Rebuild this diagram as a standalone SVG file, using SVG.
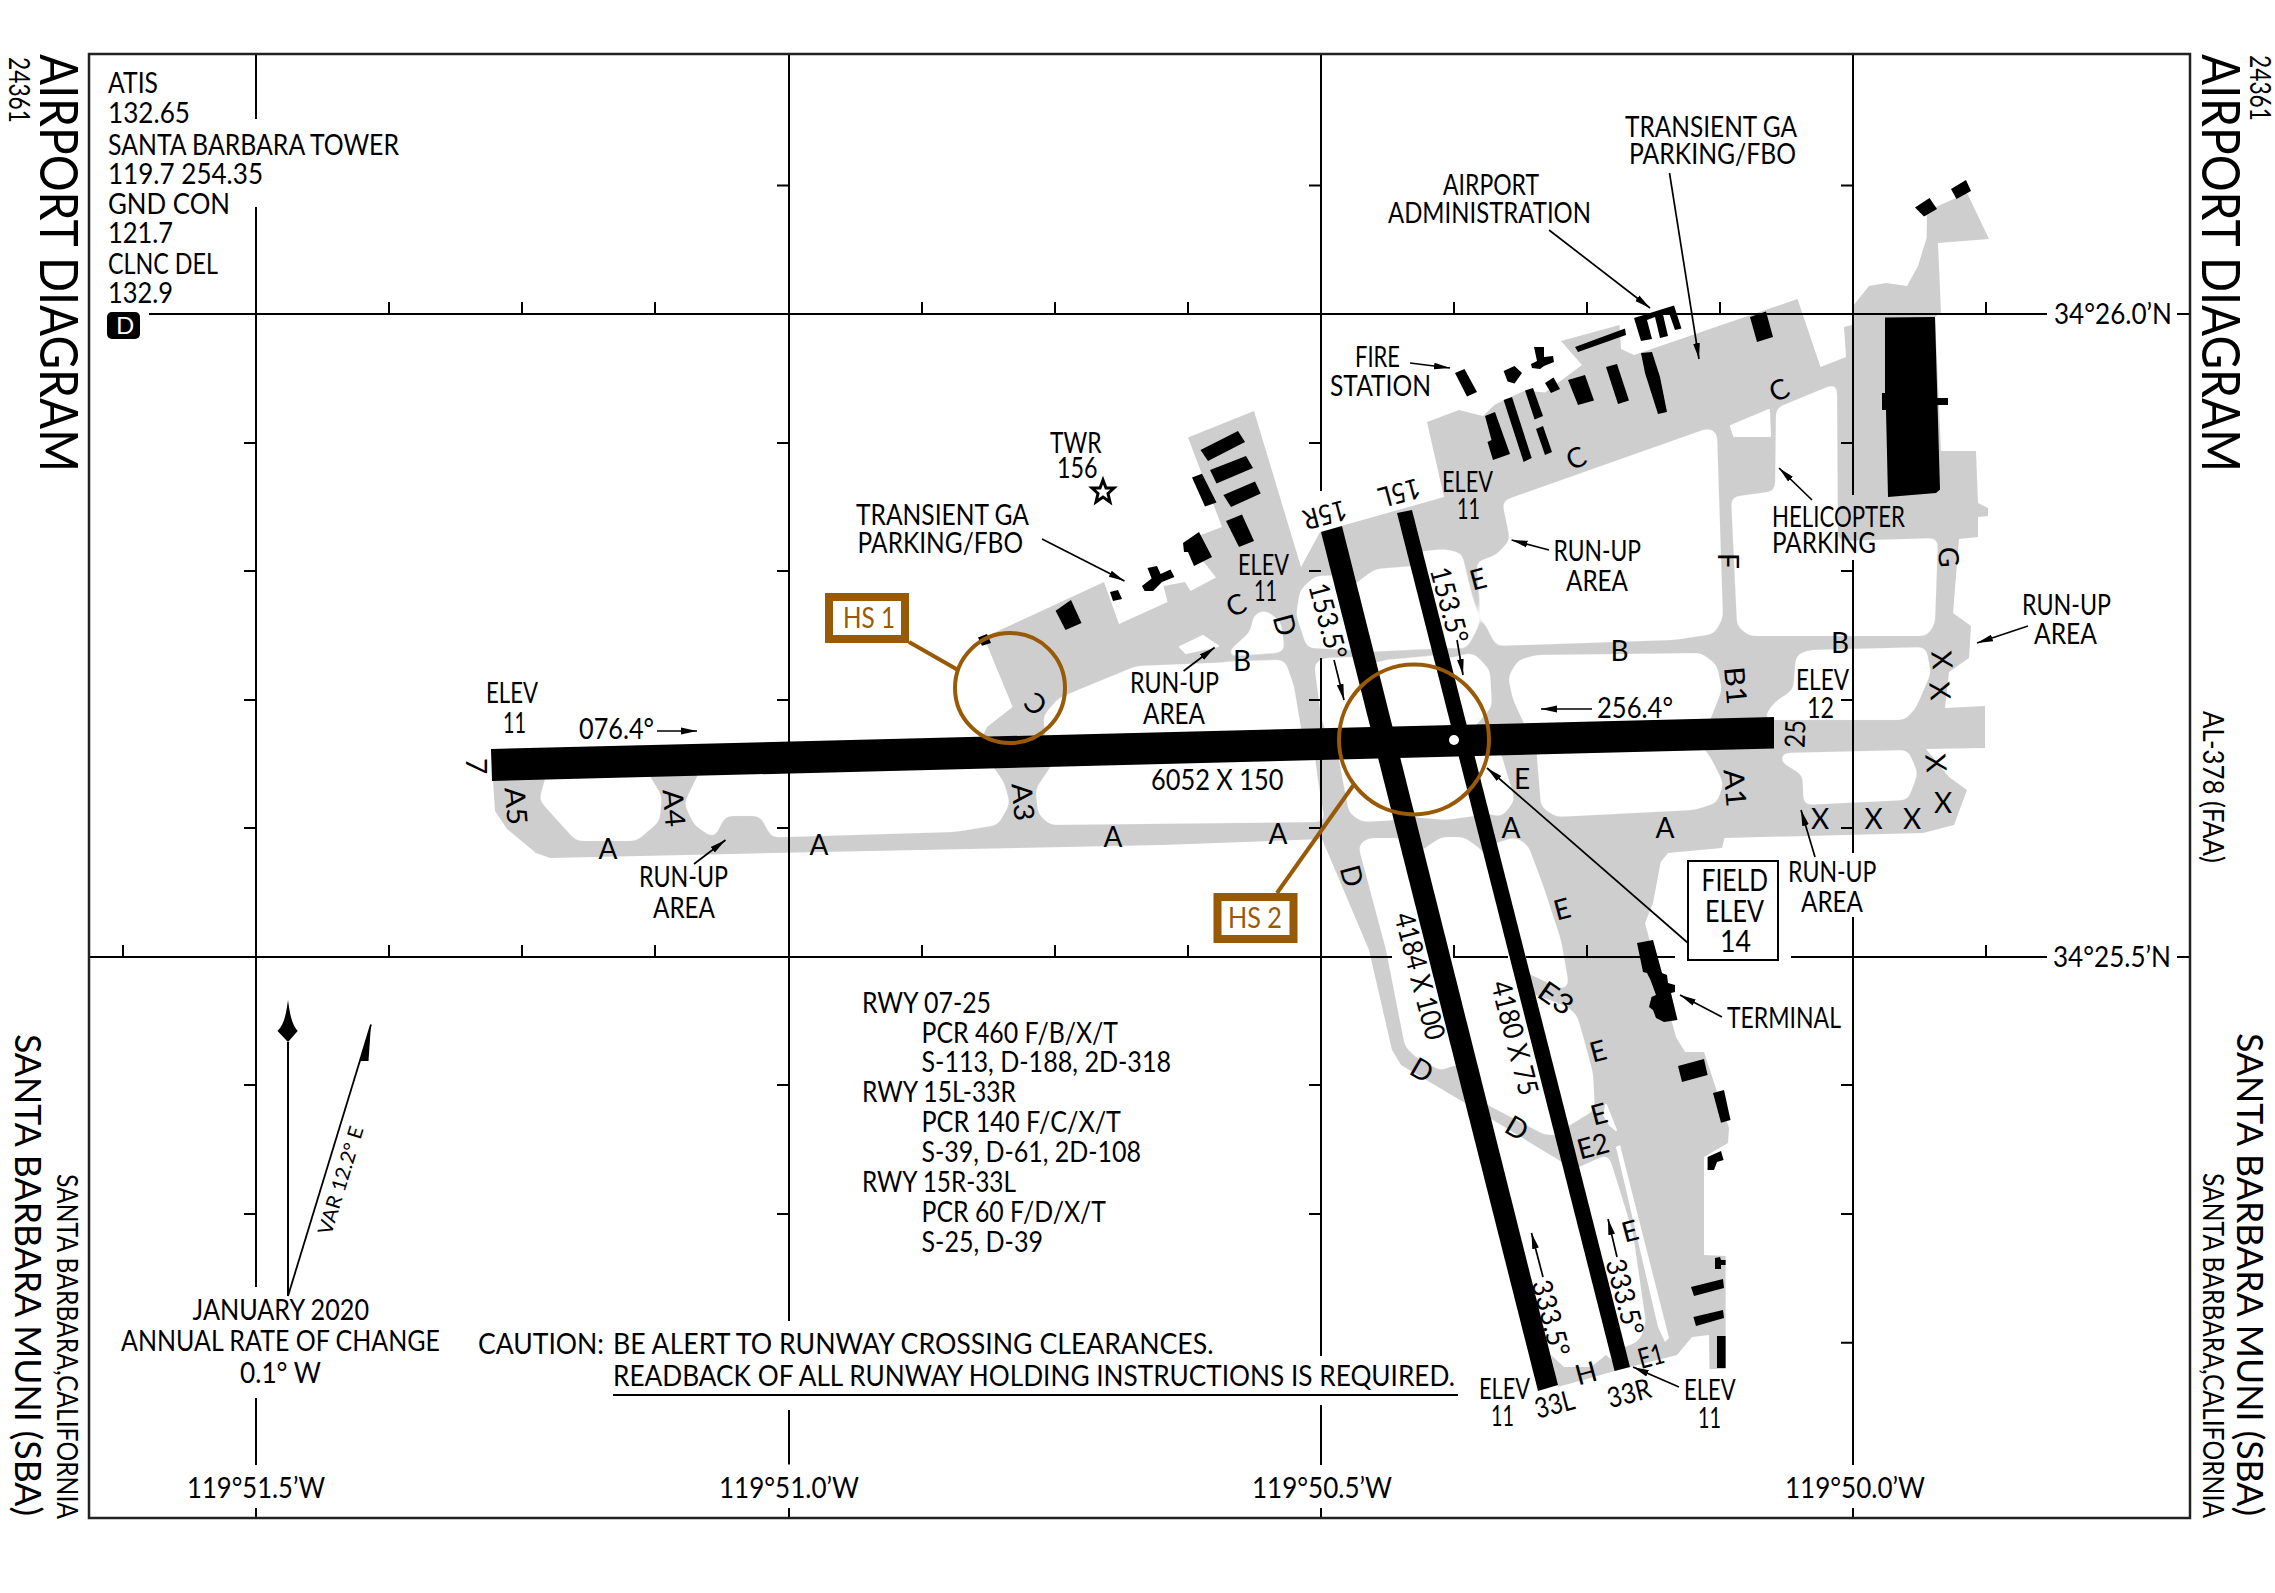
<svg xmlns="http://www.w3.org/2000/svg" width="2275" height="1593" viewBox="0 0 2275 1593">
<style>
text{font-family:Lato,"Liberation Sans",sans-serif;font-size:28px;fill:#000}
.m{text-anchor:middle}
.g{fill:#cecece}
.h{fill:#fff}
.hx{fill:#fff;stroke:#fff;stroke-width:2;stroke-linejoin:round}
.k{fill:#000}
.grid{fill:none;stroke:#000;stroke-width:2}
.lead{fill:none;stroke:#000;stroke-width:1.7;marker-end:url(#arr)}
.hs{fill:none;stroke:#985a06;stroke-width:4}
.hsb{fill:#fff;stroke:#985a06;stroke-width:8}
.hst{fill:#985a06}
</style>
<defs>
<marker id="arr" markerUnits="userSpaceOnUse" markerWidth="18" markerHeight="8" refX="16" refY="4" orient="auto"><path d="M0 0.6L16 4L0 7.4Z" fill="#000"/></marker>
<filter id="rnd" filterUnits="userSpaceOnUse" x="0" y="0" width="2275" height="1593" color-interpolation-filters="sRGB"><feGaussianBlur stdDeviation="4"/><feComponentTransfer><feFuncA type="linear" slope="10" intercept="-4.5"/></feComponentTransfer></filter>
</defs>
<rect width="2275" height="1593" fill="#fff"/>
<g id="pavement">
<polygon class="g" points="493,770 493,780 495,811 507,829 536,853 550,858 771,853 1162,845 1322,839 1369,950 1392,1050 1401,1065 1465,1103 1562,1162 1580,1172 1622,1369 1630,1367 1677,1355 1692,1337 1709,1335 1709.5,1369 1725.6,1369 1725.6,1256 1704,1255 1704,1157 1728,1143 1729,1128 1704,1052 1685,1052 1676,1037 1645,923 1653,903 1660.7,862 1668,853 1722,848 1724.5,838 1923,833 1954,825 1967,790 1949,777 1926,749 1985,748 1985,706 1945,708 1949,672 1969,658 1971,626 1953,613 1959,539 1978,537 1978,517 1988,516 1988,508 1978,503 1976,451 1941,451 1935,317 1941,313 1938,243 1989,239 1967,193 1927,211 1926.6,238 1918,266 1907,286 1886,283 1869,286 1853,306 1852,325 1844,327 1846,357 1820.5,367 1797.5,299 1634,355 1621,349 1619.5,325 1561,341 1582,365 1545,392.6 1525,390.6 1495,404.5 1483,416 1459,410 1427,422 1444,497 1320,532 1301,567 1254,411 1188,437.5 1222,527 1185,541 1207,566 1216,577.5 1190.5,591 1185,582 1163.5,586 1167.6,602 1119,624 1104,582 984,637.5 1012.6,707 987,727 981,740"/>
<polygon class="g" points="1551,1355 1564,1367 1591,1367 1606,1355 1622,1369 1558,1387"/>
<g filter="url(#rnd)">
<polygon class="h" points="547.6,770 645,768 662,796 659.5,821.5 636.6,841 576,841 539,800"/>
<polygon class="h" points="702.6,765 987,758 1004,782 1010,803.6 998,825 955,832 771.5,837.5 760,816 725.5,816 714,838.6 694,825 684,803.6"/>
<polygon class="h" points="1058.5,755 1035.5,789 1038,814 1050,825 1325,822 1318,780 1314,750"/>
<polygon class="h" points="1043,716 1058.5,698 1136,666 1285,660 1294,686 1303,740 1047,750"/>
<polygon class="h" points="1250,632 1254,614 1266,610 1281,622 1285,652 1223,656"/>
<polygon class="h" points="1315,576 1345,575 1360,650 1307,648 1296,615 1300,590"/>
<polygon class="h" points="1340,595 1375,569 1425,565 1440,648 1366,652"/>
<polygon class="h" points="1415,552 1444,549 1462,553 1479,626 1467,648 1435,648"/>
<polygon class="h" points="1314,663 1324,658 1370,657 1382,745 1330,745 1321,717"/>
<polygon class="h" points="1360,668 1385,660 1445,655 1460,740 1380,740"/>
<polygon class="h" points="1440,660 1474,653 1490,670 1492,707 1470,732 1450,732"/>
<polygon class="h" points="1337,750 1388,750 1400,820 1362,822 1349,813"/>
<polygon class="h" points="1389,750 1467,750 1482,815 1446,820 1410,817"/>
<polygon class="h" points="1465,750 1500,750 1515,800 1502,817 1480,812"/>
<polygon class="h" points="1502,501 1708.5,428 1717,432 1723,618 1714,634 1674,640 1496,646 1482,618 1476,562 1496,555 1510,540"/>
<polygon class="h" points="1776,408 1837,383 1838,541 1938,538 1935,624 1927,636 1749,636 1737,626 1731,497 1775,491"/>
<polygon class="h" points="1508,677 1518,660 1536,655 1701.5,653 1717,665 1722,690 1707,728 1528,732 1513,700"/>
<polygon class="h" points="1774.5,702 1793,690 1796,655 1809,650 1926,647 1931,673 1916,708 1905,720 1762,720"/>
<polygon class="h" points="1781,753 1908,750 1918,773 1908,800 1803.5,805 1802.5,775 1781,762"/>
<polygon class="h" points="1536,745 1700,742 1712,760 1723.5,783 1717,803 1694,810 1556,817 1541,807"/>
<polygon class="h" points="1358,845 1368,838 1405,838 1467,1067 1453,1065 1442,1071 1419,1060 1405,1047 1386,950"/>
<polygon class="h" points="1415,855 1441,837 1464,837 1482,850 1565,1135 1545,1135 1478,1100"/>
<polygon class="h" points="1487,846 1515,837 1528,845 1543,885 1561,940 1569,985 1563,990 1525,972"/>
<polygon class="h" points="1523,990 1568,1007 1577,1015 1585,1043 1593,1073 1595,1110 1562,1130"/>
<polygon class="h" points="1568,1172 1608,1154 1612,1165 1633,1233 1646,1323 1640,1340 1627,1347 1612,1347"/>
</g>
<polygon class="hx" points="1180,647 1203,636 1218,646 1186,653"/>
<polygon class="hx" points="1731,426 1769,410 1770,436 1734,436"/>
<polygon class="hx" points="1606,1105 1616,1130 1610,1125 1604,1115"/>
<polygon fill="#fff" points="1616,1147 1620,1145 1669,1338 1665,1342 1658,1327"/>
</g>
<g id="grid">
<path class="grid" d="M256 54V119M256 207V1287M256 1398V1465M256 1508V1518M789 54V1321M789 1410V1464.5M789 1508V1518M1321 54V491M1321 658V1356M1321 1405V1465M1321 1508V1518M1853 54V495M1853 560V853M1853 917V1465M1853 1508V1518"/>
<path class="grid" d="M149 314H2047M2177 314H2190M89 957H1392M1453 957H1508M1526 957H1675M1791 957H2047M2177 957H2190"/>
<path class="grid" d="M244 443H256M244 571H256M244 700H256M244 828H256M244 1085H256M244 1214H256M777 185.500H789M777 443H789M777 571H789M777 700H789M777 828H789M777 1085H789M777 1214H789M1309 185.500H1321M1309 443H1321M1309 571H1321M1309 700H1321M1309 828H1321M1309 1085H1321M1309 1214H1321M1841 185.500H1853M1841 443H1853M1841 571H1853M1841 700H1853M1841 828H1853M1841 1085H1853M1841 1214H1853M1841 1342.700H1853"/>
<path class="grid" d="M389 314V302M522 314V302M655 314V302M922 314V302M1055 314V302M1188 314V302M1454 314V302M1587 314V302M1720 314V302M1986 314V302M123 957V945M389 957V945M522 957V945M655 957V945M922 957V945M1055 957V945M1188 957V945M1454 957V945M1587 957V945M1986 957V945"/>
<rect x="89" y="54" width="2101" height="1464" fill="none" stroke="#222" stroke-width="2.500"/>
</g>
<g id="runways">
<polygon class="k" points="491,749 1774,717 1774,748.500 492,781"/>
<polygon class="k" points="1321,532 1342,526 1558,1385 1538,1391"/>
<polygon class="k" points="1397,513 1412,510 1630,1367 1614.600,1371"/>
<ellipse cx="1454" cy="740" rx="5" ry="5" fill="#fff"/>
</g>
<g id="buildings" class="k">
<polygon points="1885,317.500 1935,317 1940,489.500 1936,493 1888,497 1886,410 1882,410 1882,393 1885,393"/>
<rect x="1935" y="398" width="13" height="7"/>
<polygon points="1915,207.500 1929.500,198 1937,209 1924,216.600"/>
<polygon points="1951,189 1966,180 1971,191 1956.500,199"/>
<polygon points="1750,317 1766,311.500 1773,337 1757,342"/>
<polygon points="1634,318 1674,305.600 1681.500,328.500 1675,330 1669,313 1663,314.500 1668,336 1660,338 1655,317 1647,320 1652,339 1641,341"/>
<polygon points="1575,347 1625,328.600 1626,335 1578,352"/>
<polygon points="1641,353 1652,352 1660,377 1667,412 1658,414 1645,373"/>
<polygon points="1606,367 1617,364 1629,400.500 1618,404"/>
<polygon points="1568,380 1585,375 1594,400.500 1578,405"/>
<polygon points="1545,383 1553.500,377.600 1560,389 1551,393"/>
<polygon points="1534,347 1544,347 1544,357 1553,356 1554,362 1544,366 1540,369 1532,368 1531,364 1537,361"/>
<polygon points="1503.600,371 1514.500,366 1522,373 1514.500,383.500 1507.600,381.500"/>
<polygon points="1455,373 1464.500,369 1477,392 1467,396.600"/>
<polygon points="1525,390.600 1533,388 1543,416 1534.600,419.500"/>
<polygon points="1503.600,400 1512,397 1531.700,458 1523.600,462"/>
<polygon points="1536,429 1543,426 1552,452 1545,455"/>
<polygon points="1485,416 1495,412 1510,454 1493,460 1487.500,442 1491.500,440"/>
<polygon points="1200.500,450 1238,431 1245,442 1208,461"/>
<polygon points="1210,470 1246,456 1253,468 1216.500,483.500"/>
<polygon points="1223.400,495 1255,481.600 1260.700,493.400 1231,507"/>
<polygon points="1192,477.600 1202,473.700 1216.500,502.500 1205,506.500"/>
<polygon points="1226,521 1242,514.400 1254,541 1239,547"/>
<polygon points="1183,543 1199,532 1212,557 1194,566 1188,552 1184,552"/>
<polygon points="1142,586 1151.600,578.600 1147.500,568 1157,566 1160.600,574 1170.500,569.600 1174.400,577 1162,582 1153,591 1144.600,591"/>
<polygon points="1110,592 1118,590 1122,599 1113,601"/>
<polygon points="1055.600,610.700 1071,600 1081.500,623 1065.500,630"/>
<polygon points="978,637.500 987,634 991,643 982,645.700"/>
<polygon points="1637,943 1653,940 1662,973 1667,975 1668,983 1675,985 1675,992 1671,993 1677.500,1020 1664,1022 1656,1018 1653,1010 1649,1007 1651.500,997 1656,995 1650.500,980 1647,973 1643,972"/>
<polygon points="1678,1066 1704,1059 1707.600,1075 1682,1082"/>
<polygon points="1713,1093 1724,1090 1730.500,1120 1721,1122.700"/>
<polygon points="1707.600,1157 1721,1151 1723.600,1160 1717,1162 1714,1170 1707.600,1170"/>
<polygon points="1715,1258 1720,1257 1721,1260 1725.600,1260 1725.600,1265 1721,1265 1721,1269 1715,1269"/>
<polygon points="1691,1287 1723,1279 1724,1288 1694,1296"/>
<polygon points="1693.400,1317 1723,1310 1724,1318 1696,1326"/>
<rect x="1717" y="1336" width="8.600" height="32"/>
<polygon points="1103,480 1106,488 1114,488 1108,493.500 1110,502 1103,497 1096,502 1098,493.500 1092,488 1100,488" fill="#fff" stroke="#000" stroke-width="3"/>
</g>
<g id="leaders">
<path class="lead" d="M1410 363L1450 368"/>
<path class="lead" d="M1549 230L1650 308"/>
<path class="lead" d="M1669.500 173L1699 359"/>
<path class="lead" d="M1549 550L1511.600 540"/>
<path class="lead" d="M1812 500L1779 468"/>
<path class="lead" d="M1183.600 671L1214.600 647.500"/>
<path class="lead" d="M1334 660L1344 700"/>
<path class="lead" d="M1457 640L1463 675"/>
<path class="lead" d="M1592 709H1541"/>
<path class="lead" d="M657 731H697"/>
<path class="lead" d="M694 864L725.500 840"/>
<path class="lead" d="M1042 539L1124.500 581"/>
<path class="lead" d="M1688 943L1487 768"/>
<path class="lead" d="M1815 857L1801 810"/>
<path class="lead" d="M1722 1017L1680 995"/>
<path class="lead" d="M2028 626L1977 643"/>
<path class="lead" d="M1679 1387L1633 1367"/>
<path class="lead" d="M1543 1277L1531.500 1233"/>
<path class="lead" d="M1617 1257L1608 1219"/>
<path fill="none" stroke="#000" stroke-width="2" d="M288 1296V1042"/>
<path class="k" d="M288 1000C290 1015 292 1025 297.700 1031L288 1042L277.500 1031C284 1025 286 1015 288 1000Z"/>
<path fill="none" stroke="#000" stroke-width="1.800" d="M288 1296L371 1024.600"/>
<polygon class="k" points="371,1024.600 368.500,1061 360,1061"/>
<path fill="none" stroke="#000" stroke-width="2" d="M613 1395H1458"/>
</g>
<g id="hot-spots">
<circle class="hs" cx="1010" cy="688" r="55"/>
<path class="hs" d="M909 642L958 670"/>
<rect class="hsb" x="829" y="597" width="76" height="42"/>
<text class="hst" x="843" y="627.500" textLength="52" lengthAdjust="spacingAndGlyphs">HS 1</text>
<circle class="hs" cx="1414" cy="739.500" r="75"/>
<path class="hs" d="M1277 893L1355 783"/>
<rect class="hsb" x="1217.500" y="897" width="76" height="42"/>
<text class="hst" x="1228" y="928" textLength="54" lengthAdjust="spacingAndGlyphs">HS 2</text>
</g>
<g id="field-elev">
<rect x="1688" y="861" width="90" height="99" fill="#fff" stroke="#000" stroke-width="2"/>
<text x="1701.500" y="890.700" textLength="66.500" lengthAdjust="spacingAndGlyphs" style="font-size:31px">FIELD</text>
<text x="1705" y="921.700" textLength="59" lengthAdjust="spacingAndGlyphs" style="font-size:31px">ELEV</text>
<text x="1720" y="951.700" textLength="31" lengthAdjust="spacingAndGlyphs" style="font-size:31px">14</text>
</g>
<g id="margin">
<text transform="translate(40,54) rotate(90)" textLength="418" lengthAdjust="spacingAndGlyphs" style="font-size:53px">AIRPORT DIAGRAM</text>
<text transform="translate(2202,54) rotate(90)" textLength="418" lengthAdjust="spacingAndGlyphs" style="font-size:53px">AIRPORT DIAGRAM</text>
<text transform="translate(9,57) rotate(90)" textLength="66" lengthAdjust="spacingAndGlyphs">24361</text>
<text transform="translate(2250,55) rotate(90)" textLength="66" lengthAdjust="spacingAndGlyphs">24361</text>
<text transform="translate(15,1034) rotate(90)" textLength="482" lengthAdjust="spacingAndGlyphs" style="font-size:37px">SANTA BARBARA MUNI (SBA)</text>
<text transform="translate(2237,1033) rotate(90)" textLength="483" lengthAdjust="spacingAndGlyphs" style="font-size:37px">SANTA BARBARA MUNI (SBA)</text>
<text transform="translate(57,1174) rotate(90)" textLength="345" lengthAdjust="spacingAndGlyphs">SANTA BARBARA,CALIFORNIA</text>
<text transform="translate(2203,1173) rotate(90)" textLength="345" lengthAdjust="spacingAndGlyphs">SANTA BARBARA,CALIFORNIA</text>
<text transform="translate(2203,711) rotate(90)" textLength="152" lengthAdjust="spacingAndGlyphs">AL-378 (FAA)</text>
<text x="2054" y="324" textLength="118" lengthAdjust="spacingAndGlyphs">34°26.0’N</text>
<text x="2053" y="967" textLength="118" lengthAdjust="spacingAndGlyphs">34°25.5’N</text>
<text x="187" y="1498" textLength="138" lengthAdjust="spacingAndGlyphs">119°51.5’W</text>
<text x="719" y="1498" textLength="140" lengthAdjust="spacingAndGlyphs">119°51.0’W</text>
<text x="1252" y="1498" textLength="140" lengthAdjust="spacingAndGlyphs">119°50.5’W</text>
<text x="1785" y="1498" textLength="140" lengthAdjust="spacingAndGlyphs">119°50.0’W</text>
</g>
<g id="comm" transform="translate(0,1)">
<text x="108" y="92" textLength="50" lengthAdjust="spacingAndGlyphs">ATIS</text>
<text x="108" y="122" textLength="82" lengthAdjust="spacingAndGlyphs">132.65</text>
<text x="108" y="154" textLength="291" lengthAdjust="spacingAndGlyphs">SANTA BARBARA TOWER</text>
<text x="108" y="183" textLength="155" lengthAdjust="spacingAndGlyphs">119.7 254.35</text>
<text x="108" y="213" textLength="122" lengthAdjust="spacingAndGlyphs">GND CON</text>
<text x="108" y="242" textLength="65" lengthAdjust="spacingAndGlyphs">121.7</text>
<text x="108" y="273" textLength="110" lengthAdjust="spacingAndGlyphs">CLNC DEL</text>
<text x="108" y="302" textLength="65" lengthAdjust="spacingAndGlyphs">132.9</text>
</g>
<g id="class-d">
<rect x="107" y="312" width="33" height="27" rx="5" fill="#000"/>
<text x="116" y="334" style="fill:#fff;font-size:24px">D</text>
</g>
<g id="notes">
<text x="862" y="1012.500" textLength="129" lengthAdjust="spacingAndGlyphs">RWY 07-25</text>
<text x="921.500" y="1042.700" textLength="196.500" lengthAdjust="spacingAndGlyphs">PCR 460 F/B/X/T</text>
<text x="921.500" y="1072" textLength="249.500" lengthAdjust="spacingAndGlyphs">S-113, D-188, 2D-318</text>
<text x="862" y="1102" textLength="154" lengthAdjust="spacingAndGlyphs">RWY 15L-33R</text>
<text x="921.500" y="1132" textLength="199.500" lengthAdjust="spacingAndGlyphs">PCR 140 F/C/X/T</text>
<text x="921.500" y="1162" textLength="219.500" lengthAdjust="spacingAndGlyphs">S-39, D-61, 2D-108</text>
<text x="862" y="1192" textLength="154" lengthAdjust="spacingAndGlyphs">RWY 15R-33L</text>
<text x="921.500" y="1222" textLength="184.500" lengthAdjust="spacingAndGlyphs">PCR 60 F/D/X/T</text>
<text x="921.500" y="1252" textLength="121.500" lengthAdjust="spacingAndGlyphs">S-25, D-39</text>
<text x="478" y="1354" textLength="126" lengthAdjust="spacingAndGlyphs">CAUTION:</text>
<text x="613" y="1354" textLength="600.500" lengthAdjust="spacingAndGlyphs">BE ALERT TO RUNWAY CROSSING CLEARANCES.</text>
<text x="613" y="1385.600" textLength="842" lengthAdjust="spacingAndGlyphs">READBACK OF ALL RUNWAY HOLDING INSTRUCTIONS IS REQUIRED.</text>
<text x="192.500" y="1320" textLength="176.500" lengthAdjust="spacingAndGlyphs">JANUARY 2020</text>
<text x="121" y="1351" textLength="319" lengthAdjust="spacingAndGlyphs">ANNUAL RATE OF CHANGE</text>
<text x="240" y="1382.500" textLength="81" lengthAdjust="spacingAndGlyphs">0.1° W</text>
<text transform="translate(331,1236) rotate(-73)" textLength="112" lengthAdjust="spacingAndGlyphs" style="font-size:20px">VAR 12.2° E</text>
</g>
<g id="labels" transform="translate(0,1)">
<text x="1625" y="135.600" textLength="172" lengthAdjust="spacingAndGlyphs">TRANSIENT GA</text>
<text x="1629" y="162.500" textLength="167" lengthAdjust="spacingAndGlyphs">PARKING/FBO</text>
<text x="1443" y="194" textLength="96" lengthAdjust="spacingAndGlyphs">AIRPORT</text>
<text x="1388" y="222" textLength="203" lengthAdjust="spacingAndGlyphs">ADMINISTRATION</text>
<text x="1355" y="366" textLength="45" lengthAdjust="spacingAndGlyphs">FIRE</text>
<text x="1330" y="395" textLength="101" lengthAdjust="spacingAndGlyphs">STATION</text>
<text x="1442" y="491" textLength="51" lengthAdjust="spacingAndGlyphs">ELEV</text>
<text x="1457" y="518" textLength="23" lengthAdjust="spacingAndGlyphs">11</text>
<text x="1553.500" y="560" textLength="87.500" lengthAdjust="spacingAndGlyphs">RUN-UP</text>
<text x="1566" y="590" textLength="62" lengthAdjust="spacingAndGlyphs">AREA</text>
<text x="1772" y="526" textLength="133" lengthAdjust="spacingAndGlyphs">HELICOPTER</text>
<text x="1772" y="552" textLength="104" lengthAdjust="spacingAndGlyphs">PARKING</text>
<text x="1238" y="574" textLength="51" lengthAdjust="spacingAndGlyphs">ELEV</text>
<text x="1254" y="600" textLength="23" lengthAdjust="spacingAndGlyphs">11</text>
<text x="1130" y="692" textLength="89" lengthAdjust="spacingAndGlyphs">RUN-UP</text>
<text x="1143" y="722.500" textLength="62" lengthAdjust="spacingAndGlyphs">AREA</text>
<text x="1796" y="689" textLength="53" lengthAdjust="spacingAndGlyphs">ELEV</text>
<text x="1807" y="717" textLength="27" lengthAdjust="spacingAndGlyphs">12</text>
<text x="1597" y="717" textLength="76" lengthAdjust="spacingAndGlyphs">256.4°</text>
<text x="579" y="737.500" textLength="75" lengthAdjust="spacingAndGlyphs">076.4°</text>
<text x="486" y="702" textLength="52" lengthAdjust="spacingAndGlyphs">ELEV</text>
<text x="503" y="732" textLength="23" lengthAdjust="spacingAndGlyphs">11</text>
<text x="1151" y="789" textLength="132.500" lengthAdjust="spacingAndGlyphs">6052 X 150</text>
<text x="639" y="886" textLength="89" lengthAdjust="spacingAndGlyphs">RUN-UP</text>
<text x="653" y="917" textLength="62" lengthAdjust="spacingAndGlyphs">AREA</text>
<text x="1050" y="452" textLength="51.500" lengthAdjust="spacingAndGlyphs">TWR</text>
<text x="1057" y="477" textLength="40.500" lengthAdjust="spacingAndGlyphs">156</text>
<text x="856" y="524" textLength="173" lengthAdjust="spacingAndGlyphs">TRANSIENT GA</text>
<text x="857.600" y="552" textLength="165.400" lengthAdjust="spacingAndGlyphs">PARKING/FBO</text>
<text x="1788" y="881" textLength="88.500" lengthAdjust="spacingAndGlyphs">RUN-UP</text>
<text x="1801" y="911" textLength="62" lengthAdjust="spacingAndGlyphs">AREA</text>
<text x="1727" y="1027" textLength="114" lengthAdjust="spacingAndGlyphs">TERMINAL</text>
<text x="2022" y="614" textLength="89" lengthAdjust="spacingAndGlyphs">RUN-UP</text>
<text x="2034" y="643" textLength="63" lengthAdjust="spacingAndGlyphs">AREA</text>
<text x="1479" y="1398" textLength="51" lengthAdjust="spacingAndGlyphs">ELEV</text>
<text x="1491" y="1425" textLength="23" lengthAdjust="spacingAndGlyphs">11</text>
<text x="1684" y="1399" textLength="51.500" lengthAdjust="spacingAndGlyphs">ELEV</text>
<text x="1698" y="1427" textLength="23" lengthAdjust="spacingAndGlyphs">11</text>
<g class="m">
<text class="m" transform="translate(476,765) rotate(90)" y="10">7</text>
<text class="m" transform="translate(1795,733) rotate(-88)" y="10" textLength="28" lengthAdjust="spacingAndGlyphs">25</text>
<text class="m" transform="translate(1325,514) rotate(165)" y="10" textLength="44" lengthAdjust="spacingAndGlyphs">15R</text>
<text class="m" transform="translate(1399.500,492) rotate(165)" y="10" textLength="42" lengthAdjust="spacingAndGlyphs">15L</text>
<text class="m" transform="translate(1554.500,1403) rotate(-15)" y="10" textLength="40" lengthAdjust="spacingAndGlyphs">33L</text>
<text class="m" transform="translate(1629,1392) rotate(-15)" y="10" textLength="44" lengthAdjust="spacingAndGlyphs">33R</text>
<text class="m" transform="translate(1328,620) rotate(75)" y="10" textLength="78" lengthAdjust="spacingAndGlyphs">153.5°</text>
<text class="m" transform="translate(1449.500,604) rotate(75)" y="10" textLength="78" lengthAdjust="spacingAndGlyphs">153.5°</text>
<text class="m" transform="translate(1551,1317) rotate(75)" y="10" textLength="78" lengthAdjust="spacingAndGlyphs">333.5°</text>
<text class="m" transform="translate(1625,1296) rotate(75)" y="10" textLength="78" lengthAdjust="spacingAndGlyphs">333.5°</text>
<text class="m" transform="translate(1420,975) rotate(75.500)" y="10" textLength="130" lengthAdjust="spacingAndGlyphs">4184 X 100</text>
<text class="m" transform="translate(1515,1037) rotate(75.500)" y="10" textLength="117" lengthAdjust="spacingAndGlyphs">4180 X 75</text>
<text class="m" transform="translate(1779,389) rotate(-25)" y="10">C</text>
<text class="m" transform="translate(1576,457) rotate(-25)" y="10">C</text>
<text class="m" transform="translate(1236,604) rotate(-25)" y="10">C</text>
<text class="m" transform="translate(1035.500,703) rotate(-135)" y="10">C</text>
<text class="m" transform="translate(1285,624) rotate(75)" y="10">D</text>
<text class="m" transform="translate(1352,875) rotate(75)" y="10">D</text>
<text class="m" transform="translate(1422,1069) rotate(30)" y="10">D</text>
<text class="m" transform="translate(1517,1127) rotate(30)" y="10">D</text>
<text class="m" x="1840" y="652">B</text>
<text class="m" x="1619.500" y="660">B</text>
<text class="m" x="1242" y="670">B</text>
<text class="m" transform="translate(1728,560) rotate(90)" y="10">F</text>
<text class="m" transform="translate(1735.500,684.500) rotate(85)" y="10" textLength="38" lengthAdjust="spacingAndGlyphs">B1</text>
<text class="m" transform="translate(1735,787) rotate(85)" y="10" textLength="38" lengthAdjust="spacingAndGlyphs">A1</text>
<text class="m" transform="translate(1948.500,556) rotate(85)" y="10">G</text>
<text class="m" transform="translate(1942,659) rotate(85)" y="10">X</text>
<text class="m" transform="translate(1940,690) rotate(85)" y="10">X</text>
<text class="m" transform="translate(1936,762) rotate(85)" y="10">X</text>
<text class="m" x="1943" y="812">X</text>
<text class="m" x="1820" y="828">X</text>
<text class="m" x="1873.500" y="828">X</text>
<text class="m" x="1912" y="828">X</text>
<text class="m" x="1665" y="837">A</text>
<text class="m" x="1511" y="837">A</text>
<text class="m" x="1278" y="843">A</text>
<text class="m" x="1113" y="846">A</text>
<text class="m" x="819" y="854">A</text>
<text class="m" x="608" y="858">A</text>
<text class="m" transform="translate(516,805) rotate(85)" y="10" textLength="38" lengthAdjust="spacingAndGlyphs">A5</text>
<text class="m" transform="translate(674,807) rotate(85)" y="10" textLength="38" lengthAdjust="spacingAndGlyphs">A4</text>
<text class="m" transform="translate(1023,801) rotate(85)" y="10" textLength="38" lengthAdjust="spacingAndGlyphs">A3</text>
<text class="m" transform="translate(1478,578) rotate(-15)" y="10">E</text>
<text class="m" x="1522" y="788">E</text>
<text class="m" transform="translate(1562,908) rotate(-15)" y="10">E</text>
<text class="m" transform="translate(1556,997) rotate(35)" y="10" textLength="36" lengthAdjust="spacingAndGlyphs">E3</text>
<text class="m" transform="translate(1598,1050) rotate(-15)" y="10">E</text>
<text class="m" transform="translate(1599,1113) rotate(-15)" y="10">E</text>
<text class="m" transform="translate(1593,1145) rotate(-15)" y="10" textLength="32" lengthAdjust="spacingAndGlyphs">E2</text>
<text class="m" transform="translate(1630,1230) rotate(-15)" y="10">E</text>
<text class="m" transform="translate(1651,1355) rotate(-15)" y="10" textLength="26" lengthAdjust="spacingAndGlyphs">E1</text>
<text class="m" transform="translate(1586,1372) rotate(-15)" y="10">H</text>
</g>
</g>
</svg>
